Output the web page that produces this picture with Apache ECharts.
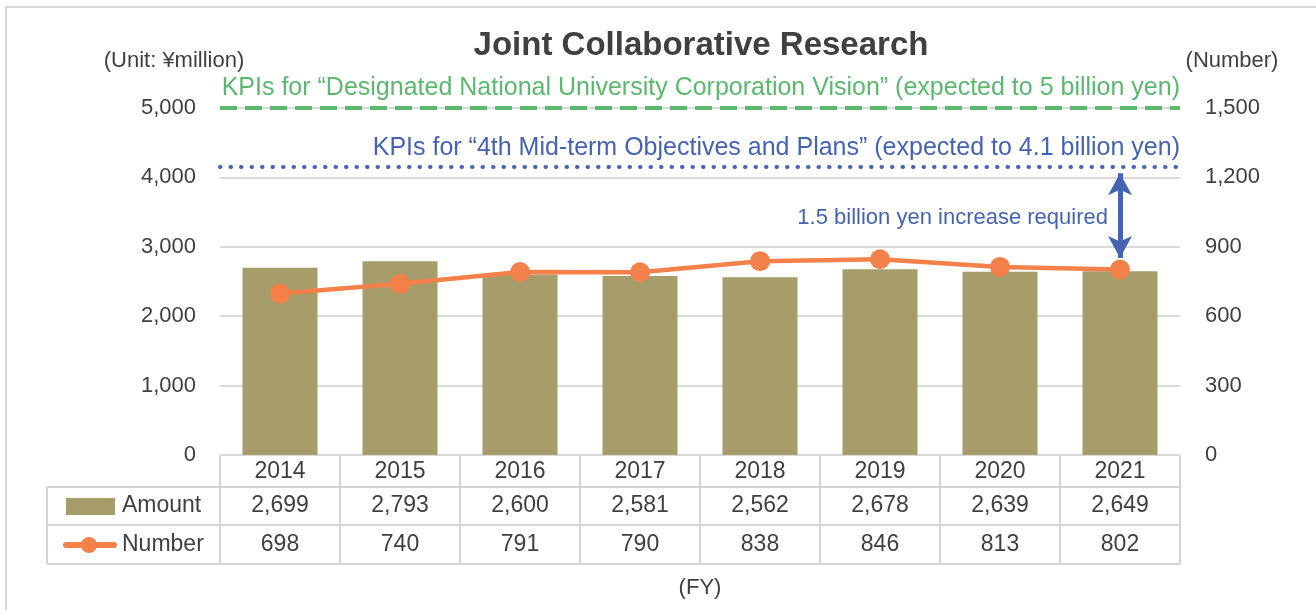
<!DOCTYPE html>
<html>
<head>
<meta charset="utf-8">
<script src="https://cdn.jsdelivr.net/npm/echarts@6/dist/echarts.min.js"></script>
<style>
  html, body { margin: 0; padding: 0; background: #fff; }
  #main { width: 1316px; height: 610px; }
</style>
</head>
<body>
<div id="main"></div>
<script>
// data
var years = ['2014', '2015', '2016', '2017', '2018', '2019', '2020', '2021'];
var amount = [2699, 2793, 2600, 2581, 2562, 2678, 2639, 2649];
var number = [698, 740, 791, 790, 838, 846, 813, 802];
var kpiVision = 5000;   // designated national university corporation vision
var kpiMidTerm = 4150;  // 4th mid-term objectives (drawn position)
var arrowFrom = 4060, arrowTo = 2840;

var FONT = '"Liberation Sans", Arial, sans-serif';
var GRID_L = 220, GRID_R = 1180, GRID_T = 108, GRID_B = 455;

var chart = echarts.init(document.getElementById('main'));

function fmt(v) { return v.toLocaleString('en-US'); }

// table below the plot
function buildTable() {
  var g = [];
  var n = years.length;
  var cw = (GRID_R - GRID_L) / n;
  var rows = [GRID_B, 487, 525, 564];
  var lineStyle = { stroke: '#d4d4d4', lineWidth: 2 };
  // horizontal lines
  g.push({ type: 'line', shape: { x1: GRID_L, y1: rows[0], x2: GRID_R, y2: rows[0] }, style: lineStyle });
  for (var r = 1; r < rows.length; r++) {
    g.push({ type: 'line', shape: { x1: 47, y1: rows[r], x2: GRID_R, y2: rows[r] }, style: lineStyle });
  }
  // vertical lines
  g.push({ type: 'line', shape: { x1: 47, y1: rows[1], x2: 47, y2: rows[3] }, style: lineStyle });
  for (var c = 0; c <= n; c++) {
    var x = GRID_L + cw * c;
    g.push({ type: 'line', shape: { x1: x, y1: rows[0], x2: x, y2: rows[3] }, style: lineStyle });
  }
  var txt = { fill: '#404040', font: '23px ' + FONT, textAlign: 'center', textVerticalAlign: 'middle' };
  for (var i = 0; i < n; i++) {
    var cx = GRID_L + cw * (i + 0.5);
    g.push({ type: 'text', x: cx, y: (rows[0] + rows[1]) / 2 + 1, style: Object.assign({ text: years[i] }, txt) });
    g.push({ type: 'text', x: cx, y: (rows[1] + rows[2]) / 2, style: Object.assign({ text: fmt(amount[i]) }, txt) });
    g.push({ type: 'text', x: cx, y: (rows[2] + rows[3]) / 2, style: Object.assign({ text: fmt(number[i]) }, txt) });
  }
  // legend keys
  g.push({ type: 'rect', shape: { x: 66, y: 498, width: 49, height: 17 }, style: { fill: '#a69d6b' } });
  g.push({ type: 'text', x: 122, y: 506, style: { text: 'Amount', fill: '#404040', font: '23px ' + FONT, textVerticalAlign: 'middle' } });
  g.push({ type: 'line', shape: { x1: 66, y1: 545, x2: 114, y2: 545 }, style: { stroke: '#f4814a', lineWidth: 6, lineCap: 'round' } });
  g.push({ type: 'circle', shape: { cx: 89, cy: 545, r: 8 }, style: { fill: '#f4814a' } });
  g.push({ type: 'text', x: 122, y: 545, style: { text: 'Number', fill: '#404040', font: '23px ' + FONT, textVerticalAlign: 'middle' } });
  return g;
}

var graphics = [
  { type: 'rect', shape: { x: 6, y: 7, width: 1330, height: 640 }, style: { fill: 'none', stroke: '#d9d9d9', lineWidth: 2 }, z: -10 },
  { type: 'text', x: 701, y: 46, style: { text: 'Joint Collaborative Research', fill: '#404040', font: 'bold 33px ' + FONT, textAlign: 'center', textVerticalAlign: 'middle' } },
  { type: 'text', x: 174, y: 61, style: { text: '(Unit: ¥million)', fill: '#404040', font: '22px ' + FONT, textAlign: 'center', textVerticalAlign: 'middle' } },
  { type: 'text', x: 1232, y: 61, style: { text: '(Number)', fill: '#404040', font: '22px ' + FONT, textAlign: 'center', textVerticalAlign: 'middle' } },
  { type: 'text', x: 1180, y: 88, style: { text: 'KPIs for \u201CDesignated National University Corporation Vision\u201D (expected to 5 billion yen)', fill: '#5cb86e', font: '25px ' + FONT, textAlign: 'right', textVerticalAlign: 'middle' } },
  { type: 'text', x: 1180, y: 148, style: { text: 'KPIs for \u201C4th Mid-term Objectives and Plans\u201D (expected to 4.1 billion yen)', fill: '#4563b2', font: '25px ' + FONT, textAlign: 'right', textVerticalAlign: 'middle' } },
  { type: 'text', x: 1108, y: 218, style: { text: '1.5 billion yen increase required', fill: '#4563b2', font: '22px ' + FONT, textAlign: 'right', textVerticalAlign: 'middle' } },
  { type: 'text', x: 700, y: 588, style: { text: '(FY)', fill: '#404040', font: '22px ' + FONT, textAlign: 'center', textVerticalAlign: 'middle' } }
].concat(buildTable());

var option = {
  animation: false,
  textStyle: { fontFamily: FONT },
  grid: { left: GRID_L, right: 1316 - GRID_R, top: GRID_T, bottom: 610 - GRID_B, containLabel: false },
  xAxis: {
    type: 'category',
    data: years,
    axisLine: { show: false },
    axisTick: { show: false },
    axisLabel: { show: false }
  },
  yAxis: [
    {
      type: 'value', min: 0, max: 5000, interval: 1000,
      axisLine: { show: false }, axisTick: { show: false },
      axisLabel: { color: '#404040', fontSize: 22, margin: 24, formatter: function (v) { return fmt(v); } },
      splitLine: { lineStyle: { color: '#d9d9d9', width: 2 } }
    },
    {
      type: 'value', min: 0, max: 1500, interval: 300,
      axisLine: { show: false }, axisTick: { show: false },
      axisLabel: { color: '#404040', fontSize: 22, margin: 25, formatter: function (v) { return fmt(v); } },
      splitLine: { show: false }
    }
  ],
  series: [
    {
      name: 'Amount',
      type: 'bar',
      yAxisIndex: 0,
      data: amount,
      barWidth: 75,
      itemStyle: { color: '#a69d6b' },
      markLine: {
        silent: true,
        symbol: 'none',
        label: { show: false },
        data: [
          { yAxis: kpiVision, lineStyle: { color: '#5cb86e', width: 4, type: [17, 8] } },
          { yAxis: kpiMidTerm, lineStyle: { color: '#4563b2', width: 4, type: [0.5, 10], cap: 'round' } },
          [
            { coord: ['2021', arrowFrom], symbol: 'arrow', symbolSize: [18, 22], lineStyle: { color: '#4563b2', width: 5, type: 'solid' } },
            { coord: ['2021', arrowTo], symbol: 'arrow', symbolSize: [18, 22] }
          ]
        ]
      },
      z: 2
    },
    {
      name: 'Number',
      type: 'line',
      yAxisIndex: 1,
      data: number,
      symbol: 'circle',
      symbolSize: 20,
      lineStyle: { color: '#f4814a', width: 4.5 },
      itemStyle: { color: '#f4814a' },
      z: 3
    }
  ],
  graphic: graphics
};

chart.setOption(option);
</script>
</body>
</html>
